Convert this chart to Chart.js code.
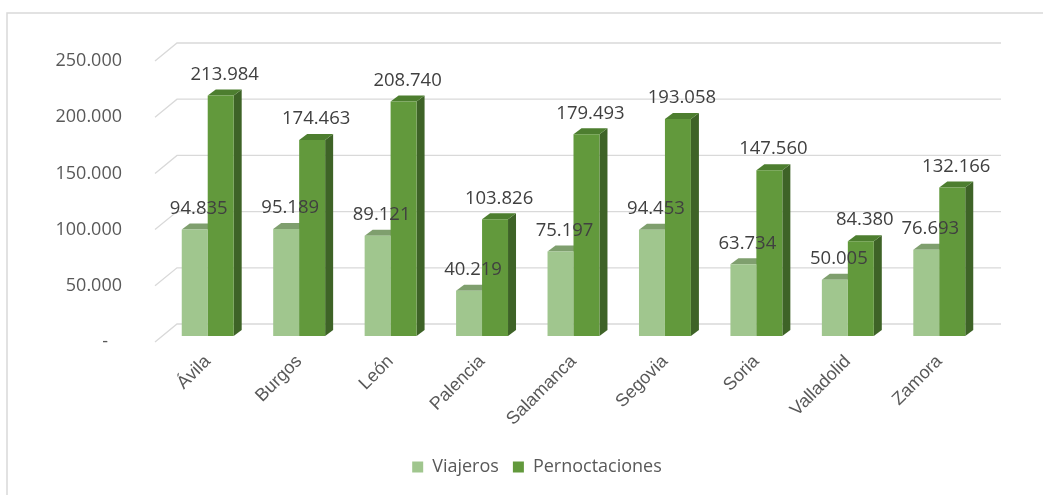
<!DOCTYPE html>
<html>
<head>
<meta charset="utf-8">
<script src="https://cdn.jsdelivr.net/npm/chart.js@4.4.0/dist/chart.umd.min.js"></script>
<style>
  html, body { margin: 0; padding: 0; background: #fff; }
</style>
</head>
<body>
<canvas id="chart" width="1043" height="495"></canvas>
<script>
// datos
var provincias = ["Ávila", "Burgos", "León", "Palencia", "Salamanca", "Segovia", "Soria", "Valladolid", "Zamora"];
var viajeros = [94835, 95189, 89121, 40219, 75197, 94453, 63734, 50005, 76693];
var pernoctaciones = [213984, 174463, 208740, 103826, 179493, 193058, 147560, 84380, 132166];
var series = ["Viajeros", "Pernoctaciones"];
var y_ticks = [0, 50000, 100000, 150000, 200000, 250000];

// colores: frente, arriba, lado
var col_front = ['#a0c68e', '#62993c'];
var col_top = ['#7f9f6e', '#4d7e2f'];
var col_side = ['#7f9f6e', '#3e6327'];

var DX = 8, DY = 6;

function fmt(v) {
  if (v === 0) return '-   ';
  return String(v).replace(/\B(?=(\d{3})+(?!\d))/g, '.');
}

// caras 3D, rejilla y etiquetas
var bars3d = {
  id: 'bars3d',
  beforeDraw: function(chart) {
    var ctx = chart.ctx;
    ctx.save();
    ctx.strokeStyle = '#d9d9d9';
    ctx.lineWidth = 1.5;
    ctx.beginPath();
    ctx.moveTo(7, 500);
    ctx.lineTo(7, 13);
    ctx.lineTo(1050, 13);
    ctx.stroke();
    ctx.restore();
  },
  beforeDatasetsDraw: function(chart) {
    var ctx = chart.ctx;
    var area = chart.chartArea;
    var ys = chart.scales.y;
    ctx.save();
    ctx.strokeStyle = '#d9d9d9';
    ctx.lineWidth = 1.3;
    ctx.font = '18px "Open Sans"';
    ctx.fillStyle = '#595959';
    ctx.textAlign = 'right';
    ctx.textBaseline = 'middle';
    ys.ticks.forEach(function(t) {
      var py = ys.getPixelForValue(t.value);
      ctx.beginPath();
      ctx.moveTo(area.left - 7, py + 6);
      ctx.lineTo(area.left + 15, py - 12);
      ctx.lineTo(area.right + 16, py - 12);
      ctx.stroke();
      ctx.fillText(fmt(t.value), area.left - 40, py + 6);
    });
    chart.data.datasets.forEach(function(ds, i) {
      var meta = chart.getDatasetMeta(i);
      meta.data.forEach(function(bar) {
        var p = bar.getProps(['x', 'y', 'base', 'width'], true);
        var l = p.x - p.width / 2, r = p.x + p.width / 2;
        ctx.fillStyle = col_side[i];
        ctx.beginPath();
        ctx.moveTo(r, p.y);
        ctx.lineTo(r + DX, p.y - DY);
        ctx.lineTo(r + DX, p.base - DY);
        ctx.lineTo(r, p.base);
        ctx.closePath();
        ctx.fill();
        ctx.fillStyle = col_top[i];
        ctx.beginPath();
        ctx.moveTo(l, p.y);
        ctx.lineTo(l + DX, p.y - DY);
        ctx.lineTo(r + DX, p.y - DY);
        ctx.lineTo(r, p.y);
        ctx.closePath();
        ctx.fill();
      });
    });
    ctx.restore();
  },
  afterDatasetsDraw: function(chart) {
    var ctx = chart.ctx;
    ctx.save();
    ctx.font = '18.5px "Open Sans"';
    ctx.fillStyle = '#404040';
    ctx.textAlign = 'center';
    ctx.textBaseline = 'middle';
    chart.data.datasets.forEach(function(ds, i) {
      var meta = chart.getDatasetMeta(i);
      meta.data.forEach(function(bar, j) {
        ctx.fillText(fmt(ds.data[j]), bar.x + 4, bar.y - 21);
      });
    });
    ctx.restore();
  }
};

new Chart(document.getElementById('chart'), {
  type: 'bar',
  data: {
    labels: provincias,
    datasets: [
      { label: series[0], data: viajeros, backgroundColor: col_front[0], borderWidth: 0 },
      { label: series[1], data: pernoctaciones, backgroundColor: col_front[1], borderWidth: 0 }
    ]
  },
  options: {
    responsive: false,
    animation: false,
    devicePixelRatio: 1,
    layout: { padding: { left: 89, right: 58, top: 55, bottom: 9 } },
    datasets: { bar: { categoryPercentage: 0.568, barPercentage: 1 } },
    scales: {
      y: {
        min: 0,
        max: 250000,
        afterBuildTicks: function(scale) {
          scale.ticks = y_ticks.map(function(v) { return { value: v }; });
        },
        afterFit: function(scale) { scale.width = 73; },
        grid: { display: false, drawTicks: false },
        border: { display: false },
        ticks: { display: false }
      },
      x: {
        afterFit: function(scale) { scale.height = 108; },
        grid: { display: false, drawTicks: false },
        border: { display: false },
        ticks: {
          minRotation: 45,
          maxRotation: 45,
          padding: 15,
          color: '#595959',
          font: { family: 'Liberation Sans', size: 18 }
        }
      }
    },
    plugins: {
      legend: {
        position: 'bottom',
        labels: {
          boxWidth: 11,
          boxHeight: 11,
          padding: 14,
          color: '#595959',
          font: { family: 'Open Sans', size: 18 }
        }
      },
      tooltip: { enabled: false }
    }
  },
  plugins: [bars3d]
});
</script>
</body>
</html>
